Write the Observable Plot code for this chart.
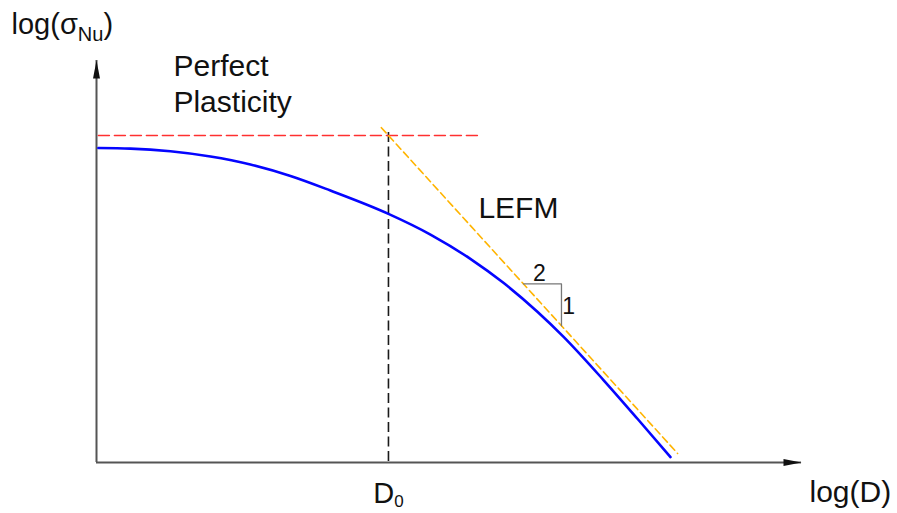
<!DOCTYPE html>
<html>
<head>
<meta charset="utf-8">
<script src="https://cdn.jsdelivr.net/npm/d3@7"></script>
<script src="https://cdn.jsdelivr.net/npm/@observablehq/plot@0.6"></script>
<style>
  html, body { margin: 0; padding: 0; background: #fff; }
</style>
</head>
<body>
<div id="chart"></div>
<script>
// Size effect on nominal strength, log-log axes (x = log(D/D0), y = log(σNu/σ0))
const axisX = [-1.237, 1.75];
const axisY = [-0.63, 0.1445];

// Nominal strength curve
const logD = [-1.229, -1.093, -0.924, -0.754, -0.585, -0.415, -0.246, 0, 0.178, 0.347, 0.487, 0.631, 0.742, 0.911, 1.055, 1.195];
const logSigma = [-0.0241, -0.0252, -0.0304, -0.0405, -0.0559, -0.0780, -0.1060, -0.1509, -0.1908, -0.2376, -0.2838, -0.3395, -0.3879, -0.4711, -0.5457, -0.6195];

// Perfect plasticity limit (horizontal)
const plasticX = [-1.229, 0.377];
const plasticY = [0, 0];

// LEFM asymptote, slope -1/2
const lefmX = [-0.03, 1.225];
const lefmY = [0.015, -0.6125];

// Transitional size D0
const d0 = 0;
const d0Span = [0.006, -0.63];

// Slope triangle 2 : 1
const triX = [0.572, 0.733, 0.733];
const triY = [-0.286, -0.286, -0.3665];

// Labels: [base, subscript, tail]
const yTitle = ["log(σ", "Nu", ")"];
const xTitle = "log(D)";
const d0Label = ["D", "0", ""];
const plasticLabel = "Perfect\nPlasticity";
const lefmLabel = "LEFM";
const slopeRun = "2";
const slopeRise = "1";

const pts = (xs, ys) => xs.map((x, i) => ({x, y: ys[i]}));

// Filled narrow arrowheads for the axes
const arrowUp = {draw(ctx) { ctx.moveTo(0, 0); ctx.lineTo(3.5, 18); ctx.lineTo(-3.5, 18); ctx.closePath(); }};
const arrowRight = {draw(ctx) { ctx.moveTo(0, 0); ctx.lineTo(-18, 3.5); ctx.lineTo(-18, -3.5); ctx.closePath(); }};

const font = 30;
const ink = "#111";

const chart = Plot.plot({
  width: 897,
  height: 513,
  marginLeft: 96,
  marginRight: 96,
  marginTop: 60,
  marginBottom: 51,
  x: {domain: axisX, axis: null},
  y: {domain: axisY, axis: null},
  style: {fontFamily: "'Liberation Sans', Arial, sans-serif", color: ink, background: "white"},
  marks: [
    // axes
    Plot.ruleY([axisY[0]], {stroke: "#555", strokeWidth: 2}),
    Plot.ruleX([axisX[0]], {stroke: "#555", strokeWidth: 2}),
    Plot.dot([{x: axisX[0], y: axisY[1]}], {x: "x", y: "y", symbol: arrowUp, r: 4, fill: ink}),
    Plot.dot([{x: axisX[1], y: axisY[0]}], {x: "x", y: "y", symbol: arrowRight, r: 4, fill: ink}),

    // D0 marker
    Plot.ruleX([d0], {y1: d0Span[0], y2: d0Span[1], stroke: "#1a1a1a", strokeWidth: 1.6, strokeDasharray: "10,4.5"}),

    // plasticity limit
    Plot.line(pts(plasticX, plasticY), {x: "x", y: "y", stroke: "#ff3030", strokeWidth: 1.5, strokeDasharray: "11,5"}),

    // LEFM asymptote
    Plot.line(pts(lefmX, lefmY), {x: "x", y: "y", stroke: "#ffb400", strokeWidth: 1.6, strokeDasharray: "7,4"}),

    // slope triangle
    Plot.line(pts(triX, triY), {x: "x", y: "y", stroke: "#777", strokeWidth: 1.3}),

    // size effect curve
    Plot.line(pts(logD, logSigma), {x: "x", y: "y", stroke: "#0505ff", strokeWidth: 2.6, curve: "monotone-x"}),

    // labels
    Plot.text([yTitle.join("")], {x: -1.597, y: 0.1965, textAnchor: "start", lineAnchor: "bottom", fontSize: 29}),
    Plot.text([xTitle], {x: 1.784, y: -0.7066, textAnchor: "start", lineAnchor: "bottom", fontSize: font}),
    Plot.text([d0Label.join("")], {x: d0, y: -0.708, textAnchor: "middle", lineAnchor: "bottom", fontSize: 29}),
    Plot.text([plasticLabel], {x: -0.911, y: 0.0462, textAnchor: "start", lineAnchor: "bottom", lineHeight: 1.2, fontSize: font}),
    Plot.text([lefmLabel], {x: 0.381, y: -0.1586, textAnchor: "start", lineAnchor: "bottom", fontSize: font}),
    Plot.text([slopeRun], {x: 0.640, y: -0.2794, textAnchor: "middle", lineAnchor: "bottom", fontSize: 23}),
    Plot.text([slopeRise], {x: 0.763, y: -0.343, textAnchor: "middle", lineAnchor: "bottom", fontSize: 23})
  ]
});

// Rewrite labels that carry a subscript
function subscript(parts, size, shift) {
  d3.select(chart).selectAll("text").each(function () {
    if (this.textContent !== parts.join("")) return;
    const t = d3.select(this);
    t.text(null);
    t.append("tspan").text(parts[0]);
    t.append("tspan").attr("font-size", size).attr("dy", shift).text(parts[1]);
    if (parts[2]) t.append("tspan").attr("dy", -shift).text(parts[2]);
  });
}
subscript(yTitle, 20, 7);
subscript(d0Label, 17, 4);

document.getElementById("chart").appendChild(chart);
</script>
</body>
</html>
